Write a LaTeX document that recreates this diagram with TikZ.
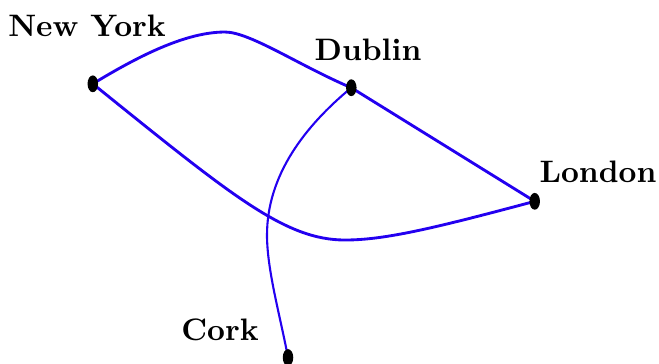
\documentclass[tikz,border=0pt]{standalone}
\usetikzlibrary{shapes.geometric}
\pgfdeclarelayer{bg}
\pgfsetlayers{bg,main}
\definecolor{routeblue}{RGB}{35,0,240}
\begin{document}
\begin{tikzpicture}[x=0.3333pt,y=-0.3333pt,
  city/.style={ellipse,fill=black,inner sep=0pt,minimum width=3.5pt,minimum height=5.6pt},
  lbl/.style={anchor=base,font=\fontsize{10.35}{12}\selectfont\bfseries},
  route/.style={draw=routeblue,line width=0.95pt},
  minor/.style={draw=routeblue,line width=0.7pt}]
\useasboundingbox (0,0) rectangle (659,363);
\node[city] (ny) at (92.8,83.8) {};
\node[city] (du) at (351.3,87.7) {};
\node[city] (lo) at (534.7,201.3) {};
\node[city] (co) at (288,357.5) {};
\node[lbl] (nyl) at (87,36) {New York};
\node[lbl] (dul) at (368,60) {Dublin};
\node[lbl] (lol) at (598,182) {London};
\node[lbl] (col) at (220,340) {Cork};
\coordinate (top) at (225,32);
\coordinate (bot) at (345,240);
\coordinate (mid) at (267,235);
\begin{pgfonlayer}{bg}
\draw[route] (ny.center) .. controls (137,57) and (185,32) .. (top)
  .. controls (250,32) and (300,66) .. (du.center);
\draw[route] (du.center) -- (lo.center);
\draw[route] (ny.center) .. controls (232,196) and (285,240) .. (bot)
  .. controls (385,240) and (435,228) .. (lo.center);
\draw[minor] (du.center) .. controls (305,126) and (267,175) .. (mid)
  .. controls (267,270) and (280,315) .. (co.center);
\end{pgfonlayer}
\end{tikzpicture}
\end{document}
